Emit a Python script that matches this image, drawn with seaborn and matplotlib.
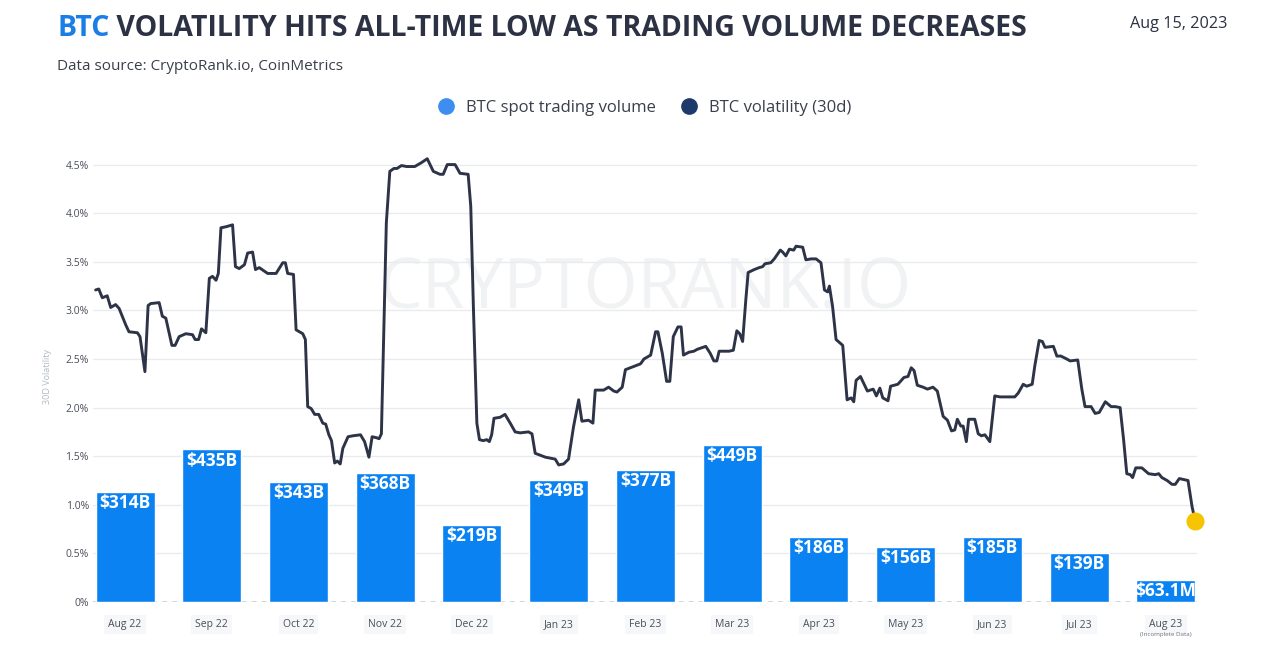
import matplotlib
matplotlib.use('Agg')
import matplotlib.pyplot as plt
import matplotlib.transforms as mtransforms
from matplotlib.lines import Line2D
import seaborn as sns
import numpy as np
import pandas as pd

# Datos mensuales de volumen spot (miles de millones USD)
months = ['Aug 22', 'Sep 22', 'Oct 22', 'Nov 22', 'Dec 22', 'Jan 23', 'Feb 23',
          'Mar 23', 'Apr 23', 'May 23', 'Jun 23', 'Jul 23', 'Aug 23']
volume_bn = [314, 435, 343, 368, 219, 349, 377, 449, 186, 156, 185, 139, 63.1]
volume_labels = ['$314B', '$435B', '$343B', '$368B', '$219B', '$349B', '$377B',
                 '$449B', '$186B', '$156B', '$185B', '$139B', '$63.1M']

# Volatilidad 30d: dias desde 2022-08-01 y valor en %
total_days = 379
vol_days = [0, 1.1, 2.3, 4.0, 5.2, 6.9, 8.1, 10.4, 11.5, 14.4, 15.3, 17.0, 18.1, 19.0,
            21.9, 23.0, 24.2, 26.3, 27.4, 28.8, 31.1, 33.4, 34.3, 35.5, 36.5, 38.0,
            39.2, 40.3, 41.5, 42.3, 43.2, 44.9, 46.1, 47.2, 48.2, 49.5, 51.3, 52.4,
            54.1, 55.1, 56.4, 59.3, 62.2, 64.5, 65.4, 66.2, 68.2, 69.1, 71.4, 72.3,
            73.1, 74.3, 75.5, 76.9, 78.3, 79.3, 80.4, 81.3, 82.4, 83.3, 84.3, 85.2,
            87.0, 88.7, 91.3, 92.7, 94.2, 95.3, 96.8, 97.7, 98.5, 100.2, 101.4, 102.8,
            103.9, 105.4, 107.2, 110.0, 112.3, 114.3, 116.4, 118.7, 119.8, 121.2,
            123.9, 125.6, 128.4, 129.3, 130.2, 131.4, 132.3, 133.6, 134.8, 135.7,
            136.5, 137.3, 139.4, 141.1, 142.9, 144.6, 146.3, 149.2, 150.4, 151.5,
            153.2, 155.0, 156.7, 158.4, 159.6, 161.3, 163.0, 164.7, 166.5, 167.6,
            169.9, 171.4, 172.2, 175.1, 176.8, 178.6, 179.7, 181.5, 182.6, 184.3,
            186.1, 187.8, 189.0, 191.3, 193.0, 193.8, 195.3, 196.8, 197.9, 199.1,
            200.7, 201.8, 202.6, 204.5, 206.2, 207.4, 210.3, 211.8, 213.1, 214.1,
            214.9, 218.3, 219.8, 221.0, 222.0, 223.0, 224.1, 224.9, 227.0, 228.7,
            229.9, 230.7, 232.7, 233.9, 236.0, 236.8, 237.9, 239.1, 240.6, 241.4,
            243.7, 244.8, 246.6, 248.3, 250.0, 251.2, 252.3, 252.9, 254.0, 255.2,
            257.5, 259.0, 260.4, 261.3, 262.1, 263.6, 266.0, 268.0, 269.1, 270.3,
            271.3, 273.1, 274.0, 276.5, 278.6, 280.0, 281.1, 282.1, 283.2, 285.2,
            286.7, 288.6, 290.1, 292.1, 293.6, 295.0, 296.1, 297.0, 298.2, 299.0,
            300.1, 300.9, 303.0, 304.2, 305.3, 306.5, 308.2, 309.9, 311.7, 316.8,
            318.0, 319.7, 320.9, 322.8, 323.7, 325.2, 326.3, 327.2, 330.1, 331.3,
            332.7, 334.7, 335.9, 338.5, 339.9, 341.0, 343.1, 344.5, 345.9, 348.0,
            350.0, 351.4, 353.1, 354.3, 355.4, 356.6, 357.4, 358.5, 360.6, 362.9,
            365.2, 366.4, 367.5, 369.3, 371.0, 372.1, 373.5, 375.0, 376.5, 377.9,
            379.0]
vol_pct = [3.21, 3.22, 3.13, 3.15, 3.03, 3.06, 3.02, 2.85, 2.78, 2.77, 2.73, 2.37, 3.05, 3.07,
           3.08, 2.94, 2.92, 2.64, 2.64, 2.73, 2.76, 2.75, 2.70, 2.70, 2.81, 2.77,
           3.33, 3.35, 3.31, 3.38, 3.85, 3.86, 3.87, 3.88, 3.45, 3.43, 3.47, 3.59,
           3.60, 3.42, 3.44, 3.38, 3.38, 3.49, 3.49, 3.38, 3.37, 2.80, 2.76, 2.70,
           2.01, 1.99, 1.93, 1.93, 1.84, 1.83, 1.72, 1.66, 1.43, 1.45, 1.42, 1.58,
           1.70, 1.71, 1.72, 1.65, 1.49, 1.70, 1.69, 1.68, 1.73, 3.90, 4.43, 4.46,
           4.46, 4.49, 4.48, 4.48, 4.52, 4.56, 4.43, 4.40, 4.40, 4.50,
           4.50, 4.41, 4.40, 4.07, 3.04, 1.84, 1.67, 1.66, 1.67, 1.65,
           1.72, 1.89, 1.90, 1.93, 1.84, 1.75, 1.74, 1.75, 1.73, 1.53,
           1.51, 1.49, 1.48, 1.47, 1.41, 1.42, 1.47, 1.80, 2.08, 1.86,
           1.87, 1.84, 2.18, 2.18, 2.21, 2.17, 2.16, 2.21, 2.39, 2.41,
           2.43, 2.45, 2.50, 2.54, 2.78, 2.78, 2.56, 2.27, 2.27, 2.73,
           2.83, 2.83, 2.54, 2.57, 2.58, 2.60, 2.63, 2.56, 2.48, 2.48,
           2.58, 2.58, 2.59, 2.79, 2.76, 2.68, 3.11, 3.39, 3.42, 3.44,
           3.45, 3.48, 3.49, 3.53, 3.62, 3.60, 3.56, 3.63, 3.62, 3.66,
           3.65, 3.52, 3.53, 3.53, 3.49, 3.21, 3.19, 3.25, 3.04, 2.70,
           2.64, 2.08, 2.10, 2.06, 2.28, 2.32, 2.17, 2.19, 2.12, 2.20,
           2.10, 2.07, 2.22, 2.24, 2.31, 2.32, 2.41, 2.38, 2.23, 2.21,
           2.19, 2.21, 2.17, 1.91, 1.87, 1.76, 1.77, 1.88, 1.81, 1.81,
           1.65, 1.88, 1.88, 1.73, 1.71, 1.72, 1.65, 2.12, 2.11, 2.11,
           2.15, 2.24, 2.22, 2.24, 2.43, 2.69, 2.68, 2.62, 2.63, 2.53,
           2.53, 2.50, 2.48, 2.49, 2.19, 2.01, 2.01, 1.94, 1.95, 2.06,
           2.01, 2.01, 2.00, 1.67, 1.32, 1.31, 1.28, 1.38, 1.38, 1.32,
           1.31, 1.32, 1.28, 1.25, 1.21, 1.21, 1.27, 1.26, 1.25, 0.98,
           0.83]

pct_ticks = [0, 0.5, 1.0, 1.5, 2.0, 2.5, 3.0, 3.5, 4.0, 4.5]

BAR_BLUE = '#0a82f2'
LINE_NAVY = '#2e3447'
DARK = '#2c3243'
BAR_W = 0.68


def graficar():
    sns.set_theme(style='white')
    plt.rcParams['font.family'] = ['Open Sans', 'DejaVu Sans']

    fig = plt.figure(figsize=(12.8, 6.46), dpi=100)
    ax = fig.add_axes([93 / 1280, 1 - 602 / 646, 1104 / 1280, 452 / 646])
    ax_bar = ax.twinx()
    ax_line = ax.twinx()

    # Barras de volumen
    df_bar = pd.DataFrame({'month': months, 'volume': volume_bn})
    sns.barplot(data=df_bar, x='month', y='volume', ax=ax_bar, color=BAR_BLUE,
                saturation=1, width=BAR_W, order=months)
    ax_bar.set_ylim(0, 1289)
    for i, (v, lab) in enumerate(zip(volume_bn, volume_labels)):
        ax_bar.annotate(lab, (i, v), xytext=(0, -1.5), textcoords='offset points',
                        ha='center', va='top', color='white', fontsize=12.5,
                        fontweight='bold')

    # Linea de volatilidad
    days = np.array(vol_days)
    xpos = -BAR_W / 2 + days / total_days * (len(months) - 1 + BAR_W)
    df_line = pd.DataFrame({'x': xpos, 'vol': vol_pct})
    sns.lineplot(data=df_line, x='x', y='vol', ax=ax_line, color=LINE_NAVY,
                 lw=2.1, estimator=None, sort=False)
    ax_line.plot(xpos[-1], vol_pct[-1], 'o', ms=12, color='#f6c400', zorder=5,
                 clip_on=False)

    ylim = (0, 4.65)
    for a in (ax, ax_line):
        a.set_ylim(*ylim)
    for a in (ax, ax_bar, ax_line):
        a.set_xlim(-0.37, 12.36)
        for s in a.spines.values():
            s.set_visible(False)
    ax_bar.set_yticks([])
    ax_line.set_yticks([])
    ax_bar.set_ylabel('')
    ax_line.set_ylabel('')
    ax_bar.set_xlabel('')
    ax_line.set_xlabel('')

    # Rejilla y ejes
    ax.set_yticks(pct_ticks)
    ax.set_yticklabels(['0%' if t == 0 else f'{t:.1f}%' for t in pct_ticks])
    ax.grid(axis='y', color='#e9ebee', lw=1)
    ax.grid(axis='x', visible=False)
    ax.axhline(0, color='#c8cdd4', lw=1.3, ls=(0, (2.5, 3)), zorder=0)
    ax.tick_params(axis='y', length=0, pad=3, labelsize=7.5, labelcolor='#4a4f5a')
    ax.set_ylabel('30D Volatility', fontsize=6.5, color='#b3b9c3', labelpad=10)

    ax.set_xticks(range(len(months)))
    ax.set_xticklabels(months)
    ax.tick_params(axis='x', length=0, pad=12, labelsize=7.5, labelcolor='#4a4f5a')
    for lab in ax.get_xticklabels():
        lab.set_bbox(dict(facecolor='#f6f7f9', edgecolor='none', pad=3))
    trans = mtransforms.blended_transform_factory(ax.transData, ax.transAxes)
    ax.text(12, -0.072, '(Incomplete Data)', transform=trans, ha='center',
            va='center', fontsize=4.5, color='#6a707b')

    # Marca de agua
    ax.text(0.5, 0.69, 'CRYPTORANK.IO', transform=ax.transAxes, ha='center',
            va='center', fontsize=50, color='#f1f2f4', zorder=0)

    # Titulos
    t = fig.text(57 / 1280, 1 - 28 / 646, 'BTC', color='#1a7ee6', fontsize=20.5,
                 fontweight='bold', va='center', ha='left')
    plt.annotate(' VOLATILITY HITS ALL-TIME LOW AS TRADING VOLUME DECREASES',
                 xy=(1, 0), xycoords=t, va='bottom', ha='left',
                 color=DARK, fontsize=20.5, fontweight='bold',
                 annotation_clip=False)
    fig.text(57 / 1280, 1 - 67 / 646, 'Data source: CryptoRank.io, CoinMetrics',
             color='#3a3f4b', fontsize=11, va='center', ha='left')
    fig.text(1228 / 1280, 1 - 24 / 646, 'Aug 15, 2023', color=DARK, fontsize=11.7,
             va='center', ha='right')

    # Leyenda
    handles = [Line2D([], [], marker='o', ls='', ms=11, color='#3d8ef0'),
               Line2D([], [], marker='o', ls='', ms=11, color='#1d3a6a')]
    fig.legend(handles, ['BTC spot trading volume', 'BTC volatility (30d)'],
               loc='center', bbox_to_anchor=(0.5, 1 - 108 / 646), ncol=2,
               frameon=False, fontsize=12, labelcolor='#3a3f4b',
               handletextpad=0.2, columnspacing=1.0)

    fig.savefig('out.png', dpi=100)


if __name__ == '__main__':
    graficar()
